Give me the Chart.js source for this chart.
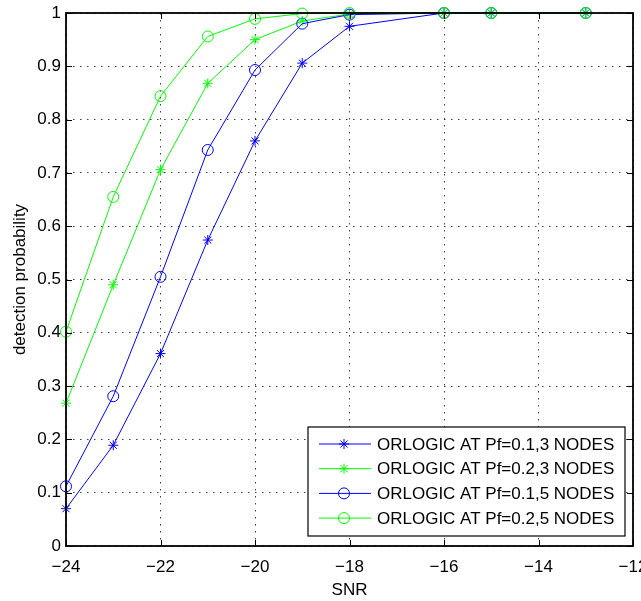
<!DOCTYPE html>
<html><head><meta charset="utf-8">
<script src="https://cdn.jsdelivr.net/npm/chart.js@4.4.1/dist/chart.umd.min.js"></script>
<style>html,body{margin:0;padding:0;background:#fff}canvas{display:block}</style>
</head><body>
<canvas id="c" width="641" height="601"></canvas>
<script>
// ---- data ----
const snr = [-24, -23, -22, -21, -20, -19, -18, -16, -15, -13];
const pdPf01N3 = [0.070, 0.189, 0.361, 0.574, 0.760, 0.906, 0.975, 1, 1, 1];
const pdPf02N3 = [0.268, 0.490, 0.706, 0.868, 0.950, 0.985, 0.998, 1, 1, 1];
const pdPf01N5 = [0.112, 0.281, 0.505, 0.743, 0.893, 0.980, 0.997, 1, 1, 1];
const pdPf02N5 = [0.402, 0.655, 0.844, 0.956, 0.989, 0.999, 1, 1, 1, 1];
const seriesLabels = [
  'ORLOGIC AT Pf=0.1,3 NODES',
  'ORLOGIC AT Pf=0.2,3 NODES',
  'ORLOGIC AT Pf=0.1,5 NODES',
  'ORLOGIC AT Pf=0.2,5 NODES'
];
const xTickValues = [-24, -22, -20, -18, -16, -14, -12];
const yTickValues = [0, 0.1, 0.2, 0.3, 0.4, 0.5, 0.6, 0.7, 0.8, 0.9, 1];
const xTitle = 'SNR';
const yTitle = 'detection probability';

const FONT = "'Liberation Sans', Arial, Helvetica, sans-serif";
const FS = 17;
const BLUE = '#0000ff', GREEN = '#00ff00';

function pts(ys) { return snr.map((x, i) => ({x: x, y: ys[i]})); }
function ds(label, ys, color, style, r, order) {
  return {label, data: pts(ys), borderColor: color, backgroundColor: 'transparent',
    pointBorderColor: color, pointBackgroundColor: 'transparent', borderWidth: 1,
    pointStyle: style, pointRadius: r, pointBorderWidth: 1, tension: 0, order: order, clip: false};
}

const frameAndTicks = {
  id: 'frameAndTicks',
  afterDatasetsDraw(chart) {
    const {ctx, chartArea: a, scales} = chart;
    ctx.save();
    ctx.strokeStyle = '#000';
    ctx.lineWidth = 1;
    const L = 6;
    ctx.beginPath();
    scales.x.ticks.forEach(t => {
      const px = Math.round(scales.x.getPixelForValue(t.value)) + 0.5;
      ctx.moveTo(px, a.bottom); ctx.lineTo(px, a.bottom - L);
      ctx.moveTo(px, a.top); ctx.lineTo(px, a.top + L);
    });
    scales.y.ticks.forEach(t => {
      const py = Math.round(scales.y.getPixelForValue(t.value)) + 0.5;
      ctx.moveTo(a.left, py); ctx.lineTo(a.left + L, py);
      ctx.moveTo(a.right, py); ctx.lineTo(a.right - L, py);
    });
    ctx.stroke();
    ctx.lineWidth = 1.8;
    ctx.strokeRect(a.left, a.top, a.right - a.left, a.bottom - a.top);
    ctx.restore();
  },
  afterDraw(chart) {
    const {ctx, chartArea: a} = chart;
    const sets = chart.data.datasets;
    const rowH = 24.7;
    const boxW = 317, boxH = 109;
    const bx = a.right - 8 - boxW, by = a.bottom - 10 - boxH;
    ctx.save();
    ctx.fillStyle = '#fff';
    ctx.fillRect(bx, by, boxW, boxH);
    ctx.strokeStyle = '#000';
    ctx.lineWidth = 1.2;
    ctx.strokeRect(bx, by, boxW, boxH);
    ctx.font = FS + 'px ' + FONT;
    ctx.textBaseline = 'middle';
    ctx.textAlign = 'left';
    sets.forEach((d, i) => {
      const y = by + 17 + i * rowH;
      ctx.strokeStyle = d.borderColor;
      ctx.lineWidth = 1;
      ctx.beginPath(); ctx.moveTo(bx + 11, y); ctx.lineTo(bx + 63, y); ctx.stroke();
      ctx.fillStyle = 'rgba(0,0,0,0)';
      Chart.helpers.drawPoint(ctx, {pointStyle: d.pointStyle, radius: d.pointRadius, rotation: 0, borderWidth: 1}, bx + 36, y);
      ctx.fillStyle = '#000';
      ctx.fillText(d.label, bx + 69, y + 1);
    });
    ctx.restore();
  }
};

new Chart(document.getElementById('c'), {
  type: 'line',
  data: {
    datasets: [
      ds(seriesLabels[0], pdPf01N3, BLUE, 'star', 5, 4),
      ds(seriesLabels[1], pdPf02N3, GREEN, 'star', 5, 3),
      ds(seriesLabels[2], pdPf01N5, BLUE, 'circle', 5.5, 2),
      ds(seriesLabels[3], pdPf02N5, GREEN, 'circle', 5.5, 1)
    ]
  },
  options: {
    responsive: false,
    animation: false,
    layout: {padding: {top: 13, right: 8, left: 0, bottom: 0}},
    plugins: {legend: {display: false}, tooltip: {enabled: false}},
    scales: {
      x: {
        type: 'linear', min: -24, max: -12,
        afterBuildTicks: s => { s.ticks = xTickValues.map(v => ({value: v})); },
        afterFit: s => { s.height = 55; s.paddingLeft = 0; s.paddingRight = 0; },
        ticks: {color: '#000', font: {family: FONT, size: FS}, padding: 11, maxRotation: 0,
          callback: v => String(v).replace('-', '\u2212')},
        grid: {color: 'rgba(0,0,0,0.75)', lineWidth: 1, drawTicks: false},
        border: {display: false, dash: [1.5, 5.5]},
        title: {display: true, text: xTitle, color: '#000', font: {family: FONT, size: FS}, padding: {top: 0, bottom: 0}}
      },
      y: {
        type: 'linear', min: 0, max: 1,
        afterBuildTicks: s => { s.ticks = yTickValues.map(v => ({value: v})); },
        afterFit: s => { s.width = 66; s.paddingTop = 0; s.paddingBottom = 0; },
        ticks: {color: '#000', font: {family: FONT, size: FS}, padding: 5,
          callback: v => String(Math.round(v * 10) / 10)},
        grid: {color: 'rgba(0,0,0,0.75)', lineWidth: 1, drawTicks: false},
        border: {display: false, dash: [1.5, 5.5]},
        title: {display: true, text: yTitle, color: '#000', font: {family: FONT, size: FS}, padding: {top: 10, bottom: 0}}
      }
    }
  },
  plugins: [frameAndTicks]
});
</script>
</body></html>
